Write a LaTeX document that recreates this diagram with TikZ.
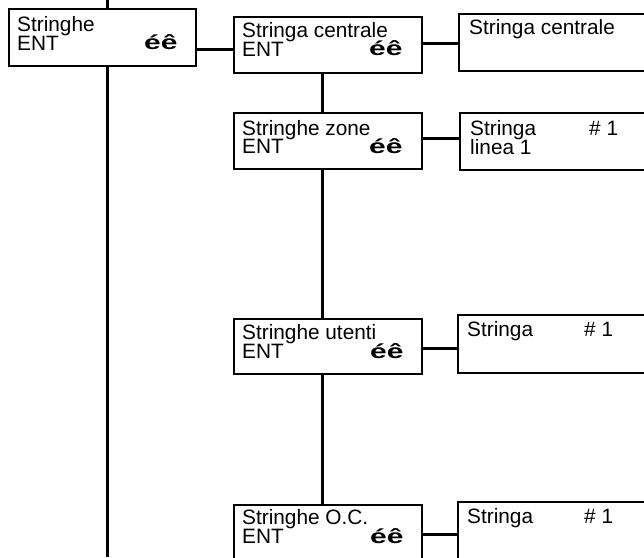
\documentclass[tikz,border=0pt]{standalone}
\usepackage{fontspec}
\setmainfont{Liberation Sans}
\newcommand\updnkeys{\scalebox{1.5}[1]{\bfseries éê}}
\begin{document}
\begin{tikzpicture}[x=1pt,y=-1pt,
  box/.style={draw, line width=2.3pt, rectangle, anchor=north west, inner sep=0pt},
  link/.style={line width=3pt},
  lbl/.style={anchor=base west, inner sep=0pt, font=\fontsize{20.8}{19}\selectfont},
  keys/.style={anchor=base west, inner sep=0pt, font=\fontsize{20}{20}\selectfont}]
\useasboundingbox (0,0) rectangle (644,557);
\clip (0,0) rectangle (644,557);
% left column
\node[box, minimum width=187pt, minimum height=57pt] (A) at (8,8) {};
\node[lbl] (At1) at (17,31) {Stringhe};
\node[lbl] (At2) at (17,50) {ENT};
\node[keys] (Ak) at (144,49) {\updnkeys};
% middle column
\node[box, minimum width=188pt, minimum height=56pt] (B) at (233,16) {};
\node[lbl] (Bt1) at (242,37.5) {Stringa centrale};
\node[lbl] (Bt2) at (242,56) {ENT};
\node[keys] (Bk) at (369,55) {\updnkeys};
\node[box, minimum width=188pt, minimum height=56pt] (C) at (233,112) {};
\node[lbl] (Ct1) at (242,135) {Stringhe zone};
\node[lbl] (Ct2) at (242,153) {ENT};
\node[keys] (Ck) at (369,153) {\updnkeys};
\node[box, minimum width=188pt, minimum height=55pt] (D) at (233,318) {};
\node[lbl] (Dt1) at (242,339) {Stringhe utenti};
\node[lbl] (Dt2) at (242,358) {ENT};
\node[keys] (Dk) at (370,358) {\updnkeys};
\node[box, minimum width=188pt, minimum height=80pt] (E) at (233,504) {};
\node[lbl] (Et1) at (242,524) {Stringhe O.C.};
\node[lbl] (Et2) at (242,543) {ENT};
\node[keys] (Ek) at (370,543) {\updnkeys};
% right column
\node[box, minimum width=220pt, minimum height=57pt] (B2) at (458,13) {};
\node[lbl] (B2t) at (469,34) {Stringa centrale};
\node[box, minimum width=220pt, minimum height=57pt] (C2) at (459,112) {};
\node[lbl] (C2t1) at (470,135) {Stringa};
\node[lbl] (C2n) at (589,135) {\# 1};
\node[lbl] (C2t2) at (470,154) {linea 1};
\node[box, minimum width=220pt, minimum height=58pt] (D2) at (457,314) {};
\node[lbl] (D2t) at (467,336) {Stringa};
\node[lbl] (D2n) at (584,336) {\# 1};
\node[box, minimum width=220pt, minimum height=80pt] (E2) at (457,501) {};
\node[lbl] (E2t) at (467,523) {Stringa};
\node[lbl] (E2n) at (584,523) {\# 1};
% coordinates
\coordinate (lx) at (107,0);
\coordinate (lxb) at (107,557);
\coordinate (mx) at (322,0);
\coordinate (yAB) at (0,49);
\coordinate (yBB) at (0,43);
\coordinate (yCC) at (0,138);
\coordinate (yDD) at (0,348);
\coordinate (yEE) at (0,534);
% connectors
\draw[link] (lx) -- (A.north -| lx);
\draw[link] (A.south -| lx) -- (lxb);
\draw[link] (A.east |- yAB) -- (B.west |- yAB);
\draw[link] (B.east |- yBB) -- (B2.west |- yBB);
\draw[link] (C.east |- yCC) -- (C2.west |- yCC);
\draw[link] (D.east |- yDD) -- (D2.west |- yDD);
\draw[link] (E.east |- yEE) -- (E2.west |- yEE);
\draw[link] (B.south -| mx) -- (C.north -| mx);
\draw[link] (C.south -| mx) -- (D.north -| mx);
\draw[link] (D.south -| mx) -- (E.north -| mx);
\end{tikzpicture}
\end{document}
